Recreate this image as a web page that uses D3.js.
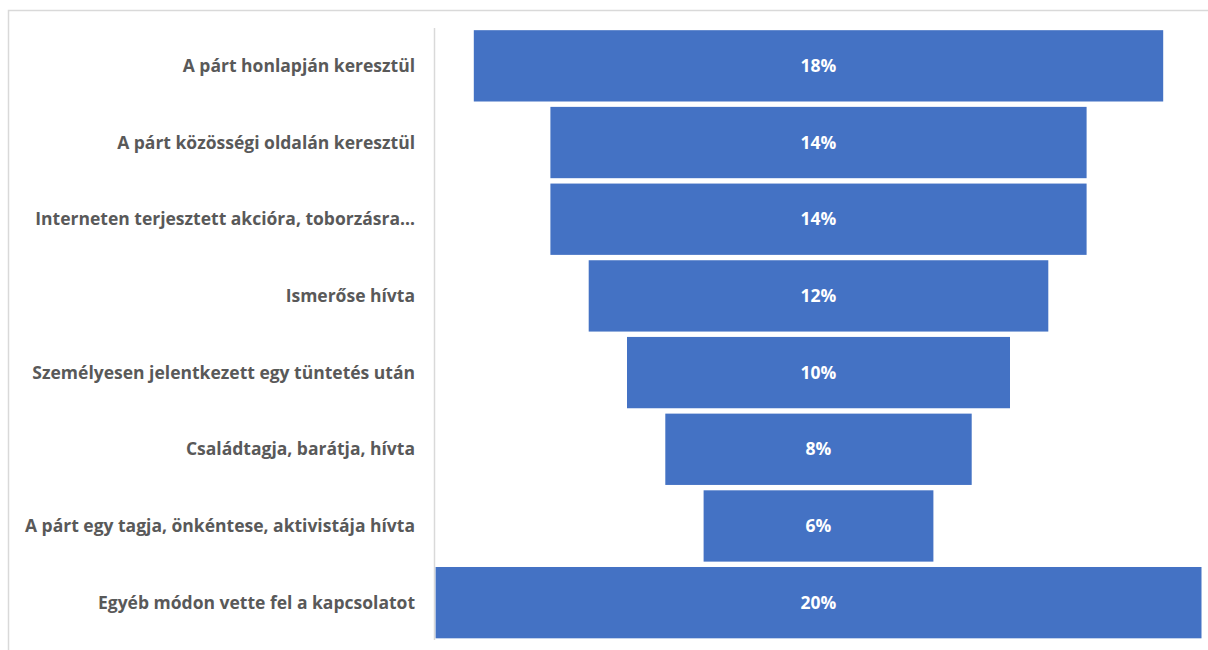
<!DOCTYPE html>
<html>
<head>
<meta charset="utf-8">
<script src="https://cdn.jsdelivr.net/npm/d3@7"></script>
<style>
  body { margin: 0; background: #fff; }
  svg { display: block; }
</style>
</head>
<body>
<svg id="chart"></svg>
<script>
"use strict";

// categories top to bottom
const categories = [
    "A párt honlapján keresztül",
    "A párt közösségi oldalán keresztül",
    "Interneten terjesztett akcióra, toborzásra…",
    "Ismerőse hívta",
    "Személyesen jelentkezett egy tüntetés után",
    "Családtagja, barátja, hívta",
    "A párt egy tagja, önkéntese, aktivistája hívta",
    "Egyéb módon vette fel a kapcsolatot"
];
const values = [18, 14, 14, 12, 10, 8, 6, 20];
const valueLabels = ["18%", "14%", "14%", "12%", "10%", "8%", "6%", "20%"];

const width = 1208, height = 650;
const svg = d3.select('#chart')
    .attr('width', width)
    .attr('height', height);

// chart area border (right/bottom edges run off the picture)
svg.append('rect')
    .attr('x', 8.5).attr('y', 10.5)
    .attr('width', 1250).attr('height', 700)
    .attr('fill', 'none')
    .attr('stroke', '#d9d9d9')
    .attr('stroke-width', 1.5);

const plotLeft = 435, plotRight = 1202;
const center = (plotLeft + plotRight) / 2;

const y = d3.scaleBand()
    .domain(categories)
    .range([27.5, 641])
    .paddingInner(0.07)
    .paddingOuter(0.035);

// width scale: value -> bar width
const w = d3.scaleLinear()
    .domain([0, d3.max(values)])
    .range([0, plotRight - plotLeft - 1]);

const g = svg.append('g');

g.selectAll('rect.bar').data(categories)
    .enter()
    .append('rect')
    .attr('class', 'bar')
    .attr('x', (d, i) => center - w(values[i]) / 2)
    .attr('y', d => y(d))
    .attr('width', (d, i) => w(values[i]))
    .attr('height', y.bandwidth())
    .attr('fill', '#4472c4');

// vertical axis line
svg.append('line')
    .attr('x1', 434.5).attr('x2', 434.5)
    .attr('y1', 28).attr('y2', 640)
    .attr('stroke', '#d9d9d9')
    .attr('stroke-width', 1.5);

// category labels
g.selectAll('text.cat').data(categories)
    .enter()
    .append('text')
    .attr('class', 'cat')
    .attr('x', 415)
    .attr('y', d => y(d) + y.bandwidth() / 2)
    .attr('dy', '0.35em')
    .attr('text-anchor', 'end')
    .attr('font-family', "'Open Sans', sans-serif")
    .attr('font-weight', 'bold')
    .attr('font-size', '17.5px')
    .attr('fill', '#595959')
    .text(d => d);

// value labels
g.selectAll('text.val').data(categories)
    .enter()
    .append('text')
    .attr('class', 'val')
    .attr('x', center)
    .attr('y', d => y(d) + y.bandwidth() / 2)
    .attr('dy', '0.35em')
    .attr('text-anchor', 'middle')
    .attr('font-family', "'Open Sans', sans-serif")
    .attr('font-weight', 'bold')
    .attr('font-size', '17.5px')
    .attr('fill', '#ffffff')
    .text((d, i) => valueLabels[i]);
</script>
</body>
</html>
